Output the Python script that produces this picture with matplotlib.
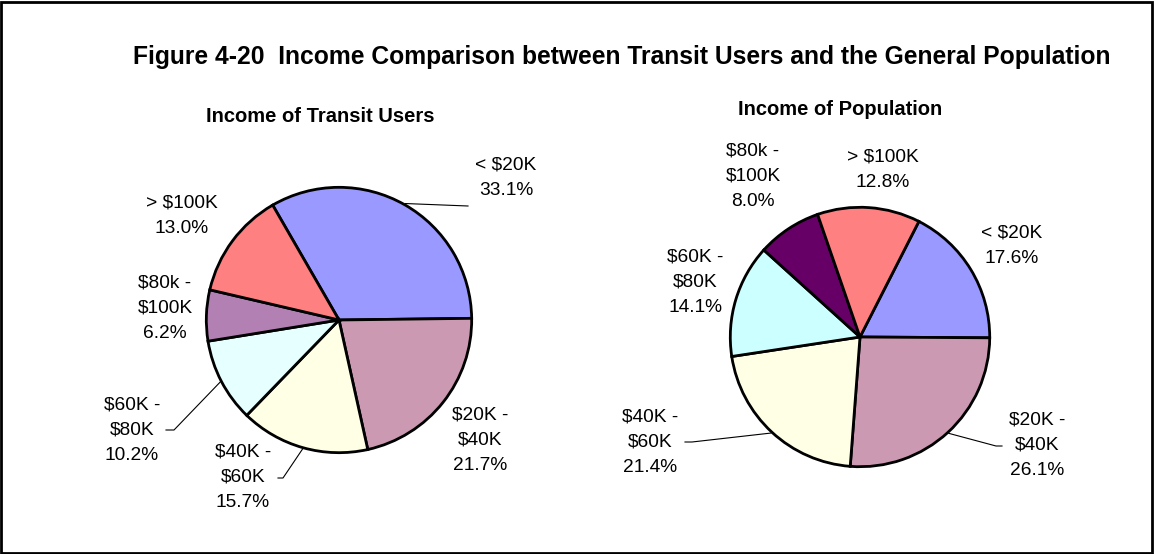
import numpy as np
import matplotlib
matplotlib.use('Agg')
import matplotlib.pyplot as plt
from matplotlib.patches import Rectangle

plt.rcParams['font.family'] = ['Liberation Sans', 'DejaVu Sans']

# Data
categories = ['< $20K', '$20K -\n$40K', '$40K -\n$60K', '$60K -\n$80K', '$80k -\n$100K', '> $100K']
transit_pct = [33.1, 21.7, 15.7, 10.2, 6.2, 13.0]
population_pct = [17.6, 26.1, 21.4, 14.1, 8.0, 12.8]

transit_colors = ['#9999FF', '#CC99B3', '#FFFFE6', '#E6FFFF', '#B380B3', '#FF8080']
population_colors = ['#9999FF', '#CC99B3', '#FFFFE6', '#CCFFFF', '#660066', '#FF8080']

W, H = 1154, 554
fig = plt.figure(figsize=(W / 100, H / 100), dpi=100)

def fx(x):
    return x / W

def fy(y):
    return 1 - y / H

# Border around the whole picture
fig.patches.append(Rectangle((0.001, 0.002), 0.997, 0.994, transform=fig.transFigure,
                             fill=False, edgecolor='black', linewidth=2))

fig.text(fx(622), fy(57), 'Figure 4-20  Income Comparison between Transit Users and the General Population',
         ha='center', va='center', fontsize=17.7, fontweight='bold')

# Layout (pixels): centre, radius, start angle, subtitle pos, label centres, leader elbows
pies = [
    dict(title='Income of Transit Users', tpos=(320, 116), vals=transit_pct, colors=transit_colors,
         c=(339, 320), r=134, start=120,
         labels=[(506, 178), (480, 440), (243, 477), (132, 430), (165, 308), (182, 216)],
         elbows=[(468, 206), None, (283, 478), (174, 430), None, None],
         ends=[None, None, 278, 166, None, None]),
    dict(title='Income of Population', tpos=(840, 110), vals=population_pct, colors=population_colors,
         c=(860, 337), r=131, start=63,
         labels=[(1012, 246), (1037, 445), (650, 442), (695, 282), (753, 176), (883, 170)],
         elbows=[None, (996, 446), (692, 442), None, None, None],
         ends=[None, 1002, 685, None, None, None]),
]

for p in pies:
    cx, cy = p['c']
    r = p['r']
    ax = fig.add_axes([fx(cx - r), fy(cy + r), 2 * r / W, 2 * r / H])
    wedges, _ = ax.pie(p['vals'], colors=p['colors'], startangle=p['start'], counterclock=False,
                       radius=1, wedgeprops=dict(edgecolor='black', linewidth=2))
    ax.set_xlim(-1.01, 1.01)
    ax.set_ylim(-1.01, 1.01)
    ax.set_aspect('equal')
    ax.axis('off')

    fig.text(fx(p['tpos'][0]), fy(p['tpos'][1]), p['title'], ha='center', va='center',
             fontsize=14.5, fontweight='bold')

    for w, lab, v, pos, elb, end in zip(wedges, categories, p['vals'], p['labels'], p['elbows'], p['ends']):
        txt = '%s\n%.1f%%' % (lab, v)
        fig.text(fx(pos[0]), fy(pos[1]), txt, ha='center', va='center', multialignment='center',
                 fontsize=13.8, linespacing=1.65)
        if elb is not None:
            mid = np.deg2rad((w.theta1 + w.theta2) / 2)
            ex = cx + r * np.cos(mid)
            ey = cy - r * np.sin(mid)
            xs = [fx(ex), fx(elb[0])]
            ys = [fy(ey), fy(elb[1])]
            if end is not None:
                xs.append(fx(end))
                ys.append(fy(elb[1]))
            fig.add_artist(plt.Line2D(xs, ys, color='black', linewidth=0.8))

fig.savefig('out.png', dpi=100)
